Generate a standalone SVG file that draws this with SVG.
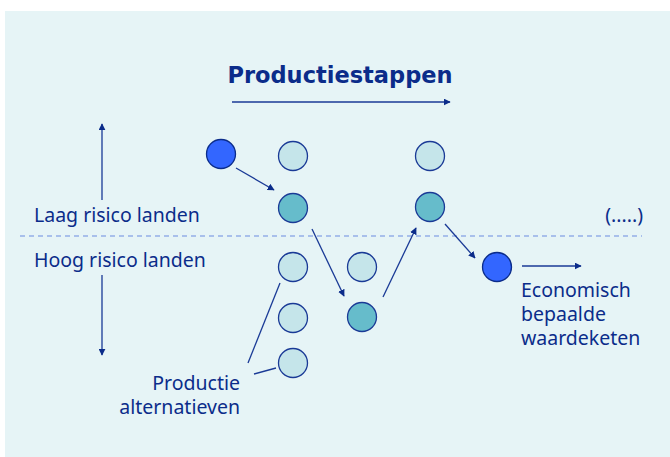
<svg xmlns="http://www.w3.org/2000/svg" width="670" height="457" viewBox="0 0 670 457">
<defs>
<style>
.t{font-family:"Noto Sans","Liberation Sans",sans-serif;fill:#0B2C8A;font-size:19.5px}
.ln{stroke:#1A3A96;stroke-width:1.3;fill:none}
.blue{fill:#3366FF;stroke:#0B2C8A;stroke-width:1.3}
.light{fill:#C5E5EA;stroke:#1A3A96;stroke-width:1.3}
.teal{fill:#66BCCB;stroke:#1A3A96;stroke-width:1.3}
</style>
<marker id="ah" viewBox="0 0 10 10" refX="9" refY="5" markerWidth="7" markerHeight="7" markerUnits="userSpaceOnUse" orient="auto">
<path d="M0,0L10,5L0,10z" fill="#0B2C8A"/>
</marker>
</defs>
<rect x="5" y="11" width="665" height="446" fill="#E6F4F6"/>
<g id="title"><text x="340" y="83" text-anchor="middle" font-family="'DejaVu Sans',sans-serif" font-weight="bold" font-size="22.5" fill="#0B2C8A">Productiestappen</text></g>
<g id="labels">
<text class="t" x="34" y="222">Laag risico landen</text>
<text class="t" x="34" y="267">Hoog risico landen</text>
<text class="t" x="643" y="222" text-anchor="end">(.....)</text>
<text class="t" x="521" y="297">Economisch</text>
<text class="t" x="521" y="321">bepaalde</text>
<text class="t" x="521" y="345">waardeketen</text>
<text class="t" x="240" y="390" text-anchor="end">Productie</text>
<text class="t" x="240" y="414" text-anchor="end">alternatieven</text>
</g>
<g id="connectors">
<line class="ln" x1="232" y1="102" x2="450" y2="102" marker-end="url(#ah)"/>
<line class="ln" x1="102" y1="200" x2="102" y2="124" marker-end="url(#ah)"/>
<line class="ln" x1="102" y1="275" x2="102" y2="355" marker-end="url(#ah)"/>
<line x1="20" y1="236" x2="642" y2="236" stroke="#6A8BE0" stroke-width="1" stroke-dasharray="5,4"/>
<line class="ln" x1="236" y1="168" x2="274" y2="190" marker-end="url(#ah)"/>
<line class="ln" x1="312" y1="229" x2="344" y2="296" marker-end="url(#ah)"/>
<line class="ln" x1="383" y1="297" x2="416" y2="228" marker-end="url(#ah)"/>
<line class="ln" x1="445" y1="224" x2="475" y2="258" marker-end="url(#ah)"/>
<line class="ln" x1="522" y1="266" x2="581" y2="266" marker-end="url(#ah)"/>
<line class="ln" x1="248" y1="363" x2="280" y2="283"/>
<line class="ln" x1="254" y1="374" x2="276" y2="368"/>
</g>
<g id="n1"><circle class="blue" cx="221" cy="154" r="14.5"/></g>
<g id="n2"><circle class="light" cx="293" cy="156" r="14.5"/></g>
<g id="n3"><circle class="teal" cx="293" cy="208" r="14.5"/></g>
<g id="n4"><circle class="light" cx="430" cy="156" r="14.5"/></g>
<g id="n5"><circle class="teal" cx="430" cy="207" r="14.5"/></g>
<g id="n6"><circle class="light" cx="293" cy="267" r="14.5"/></g>
<g id="n7"><circle class="light" cx="362" cy="267" r="14.5"/></g>
<g id="n8"><circle class="light" cx="293" cy="318" r="14.5"/></g>
<g id="n9"><circle class="teal" cx="362" cy="317" r="14.5"/></g>
<g id="n10"><circle class="light" cx="293" cy="363" r="14.5"/></g>
<g id="n11"><circle class="blue" cx="497" cy="267" r="14.5"/></g>
</svg>
